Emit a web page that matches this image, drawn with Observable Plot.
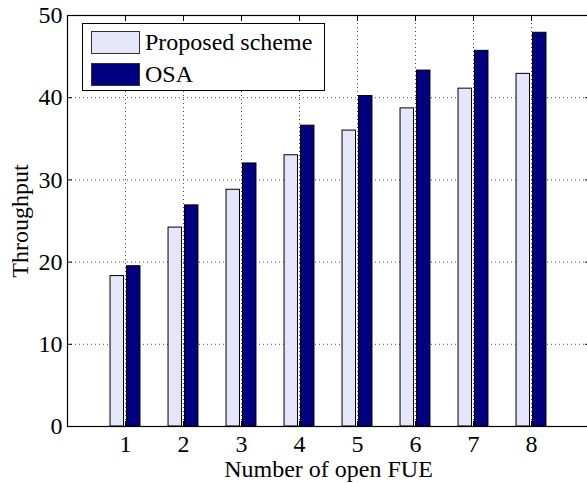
<!DOCTYPE html>
<html><head><meta charset="utf-8">
<script src="https://cdn.jsdelivr.net/npm/d3@7"></script>
<script src="https://cdn.jsdelivr.net/npm/@observablehq/plot@0.6"></script>
<style>
html,body{margin:0;padding:0;background:#fff;overflow:hidden;}
#wrap{position:relative;width:587px;height:483px;}
.legend{position:absolute;left:82px;top:23px;width:243px;height:68px;border:1px solid #000;background:#fff;font-family:"Liberation Serif","Times New Roman",serif;font-size:24px;box-sizing:border-box;color:#000;}
.row{position:absolute;left:8px;display:flex;align-items:center;height:24px;white-space:nowrap;}
.sw{width:49px;height:23px;border:1px solid #333;box-sizing:border-box;margin-right:5px;}
</style></head><body><div id="wrap"></div>
<script>
const groups = [1, 2, 3, 4, 5, 6, 7, 8];
const proposed = [18.3, 24.2, 28.8, 33.0, 36.0, 38.7, 41.1, 42.9];
const osa = [19.5, 26.9, 32.0, 36.6, 40.2, 43.3, 45.7, 47.9];
const seriesNames = ["Proposed scheme", "OSA"];
const seriesColors = ["#E6E6FA", "#000080"];
const xTicks = [1, 2, 3, 4, 5, 6, 7, 8];
const yTicks = [0, 10, 20, 30, 40, 50];

const rows = [];
groups.forEach((g, i) => {
  rows.push({group: g, series: seriesNames[0], idx: 0, value: proposed[i]});
  rows.push({group: g, series: seriesNames[1], idx: 1, value: osa[i]});
});
const barSpan = [[-0.258, -0.026], [0.026, 0.258]];
const gridStyle = {stroke: "#000", strokeOpacity: 0.7, strokeDasharray: "1,3"};
const FONT = '"Liberation Serif","Times New Roman",serif';

const chart = Plot.plot({
  width: 587, height: 483,
  marginLeft: 67, marginRight: -2, marginTop: 15, marginBottom: 57,
  style: {fontFamily: FONT, fontSize: "24px", background: "#fff", color: "#000"},
  x: {domain: [0, 9]},
  y: {domain: [0, 50]},
  color: {domain: seriesNames, range: seriesColors},
  marks: [
    Plot.gridY(yTicks, gridStyle),
    Plot.gridX(xTicks, gridStyle),
    Plot.rectY(rows, {
      x1: d => d.group + barSpan[d.idx][0],
      x2: d => d.group + barSpan[d.idx][1],
      y1: 0, y2: "value",
      fill: "series", stroke: "#000", strokeWidth: 1
    }),
    Plot.frame({stroke: "#000", strokeWidth: 1.2}),
    Plot.axisX(xTicks, {anchor: "bottom", tickSize: -5, tickPadding: 13, label: "Number of open FUE", labelArrow: "none", labelAnchor: "center", labelOffset: 50}),
    Plot.axisX(xTicks, {anchor: "top", tickSize: -5, tickFormat: () => "", label: null}),
    Plot.axisY(yTicks, {anchor: "left", tickSize: -5, tickPadding: 10, label: "Throughput", labelArrow: "none", labelAnchor: "center", labelOffset: 57}),
    Plot.axisY(yTicks, {anchor: "right", tickSize: -5, tickFormat: () => "", label: null})
  ]
});
const wrap = document.getElementById("wrap");
wrap.appendChild(chart);

const legend = document.createElement("div");
legend.className = "legend";
seriesNames.forEach((name, i) => {
  const row = document.createElement("div");
  row.className = "row";
  row.style.top = (i === 0 ? 6 : 38) + "px";
  const sw = document.createElement("div");
  sw.className = "sw";
  sw.style.background = seriesColors[i];
  const t = document.createElement("span");
  t.textContent = name;
  row.appendChild(sw);
  row.appendChild(t);
  legend.appendChild(row);
});
wrap.appendChild(legend);
</script>
</body></html>
